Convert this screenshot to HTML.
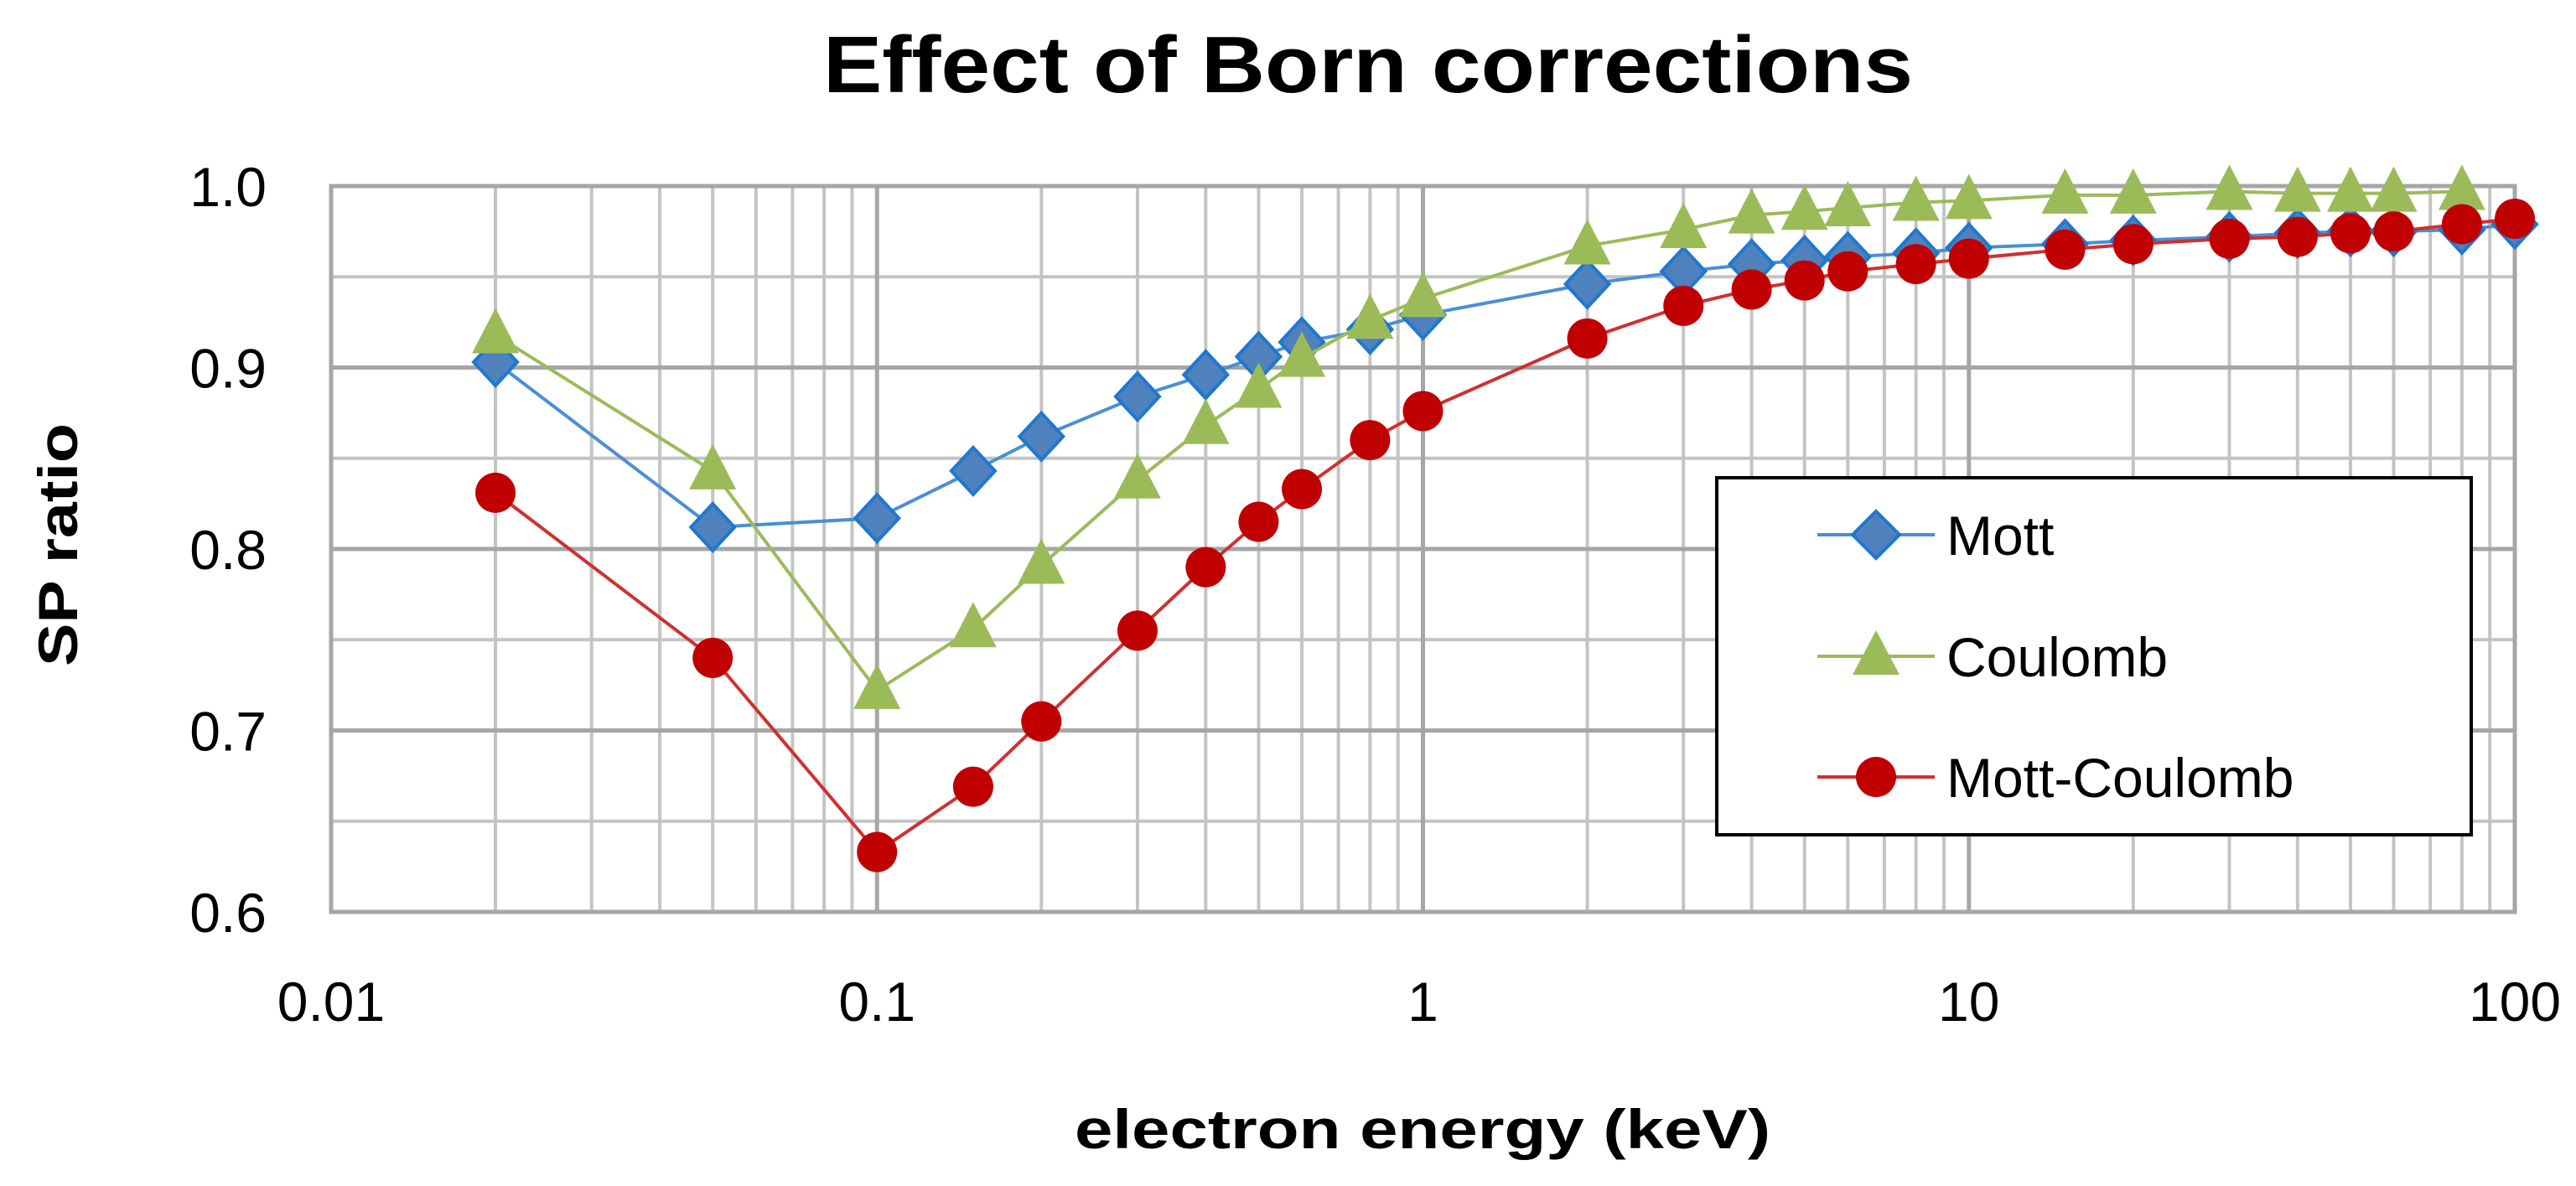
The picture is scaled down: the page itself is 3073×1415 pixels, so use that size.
<!DOCTYPE html>
<html><head><meta charset="utf-8"><style>
html,body{margin:0;padding:0;background:#fff;}
svg{display:block;font-family:"Liberation Sans",sans-serif;}
</style></head><body>
<svg id="chart" width="3073" height="1415" viewBox="0 0 3073 1415" xmlns="http://www.w3.org/2000/svg">
<text x="1632" y="110" font-size="96" font-weight="bold" text-anchor="middle" textLength="1300" lengthAdjust="spacingAndGlyphs">Effect of Born corrections</text>
<g id="grid"></g>
<g id="axes"></g>
<g id="series"></g>
<text x="1697" y="1370" font-size="66" font-weight="bold" text-anchor="middle" textLength="830" lengthAdjust="spacingAndGlyphs">electron energy (keV)</text>
<text transform="translate(92,650) rotate(-90)" font-size="66" font-weight="bold" text-anchor="middle" textLength="290" lengthAdjust="spacingAndGlyphs">SP ratio</text>
<g>
<rect x="2048" y="570" width="900" height="426" fill="#fff" stroke="#000" stroke-width="4"/>
<g>
<line x1="2168" y1="638" x2="2308" y2="638" stroke="#4a8fd4" stroke-width="4"/>
<polygon points="2238,610 2266,638 2238,666 2210,638" fill="#4f81bd" stroke="#1f78d0" stroke-width="4"/>
<text x="2322" y="662" font-size="66">Mott</text></g>
<g>
<line x1="2168" y1="783" x2="2308" y2="783" stroke="#9bbb59" stroke-width="4"/>
<polygon points="2238,752 2266,805 2210,805" fill="#9bbb59"/>
<text x="2322" y="807" font-size="66">Coulomb</text></g>
<g>
<line x1="2168" y1="927" x2="2308" y2="927" stroke="#d03030" stroke-width="4"/>
<circle cx="2238" cy="927" r="24" fill="#c00000"/>
<text x="2322" y="951" font-size="66">Mott-Coulomb</text></g>
</g>
</svg>
<script>
const energies=[0.02,0.05,0.1,0.15,0.2,0.3,0.4,0.5,0.6,0.8,1,2,3,4,5,6,8,10,15,20,30,40,50,60,80,100];
const mott=[0.903,0.812,0.817,0.843,0.862,0.884,0.896,0.906,0.914,0.921,0.929,0.946,0.953,0.957,0.959,0.961,0.963,0.966,0.968,0.970,0.972,0.974,0.975,0.975,0.976,0.979];
const coulombX=[0.02,0.05,0.1,0.15,0.2,0.3,0.4,0.5,0.6,0.8,1,2,3,4,5,6,8,10,15,20,30,40,50,60,80];
const coulomb=[0.918,0.843,0.722,0.756,0.791,0.838,0.868,0.888,0.905,0.926,0.938,0.967,0.976,0.984,0.986,0.988,0.991,0.992,0.995,0.995,0.997,0.996,0.996,0.996,0.997];
const mottCoulomb=[0.831,0.740,0.633,0.669,0.705,0.755,0.790,0.815,0.833,0.860,0.876,0.916,0.934,0.943,0.948,0.953,0.957,0.960,0.965,0.968,0.971,0.972,0.974,0.975,0.979,0.982];
const xTicks=[0.01,0.1,1,10,100];
const xTickLabels=["0.01","0.1","1","10","100"];
const yTicks=[0.6,0.7,0.8,0.9,1.0];
const yTickLabels=["0.6","0.7","0.8","0.9","1.0"];

const NS="http://www.w3.org/2000/svg";
const X0=395,X1=3000,Y0=1088,Y1=222;
const xs=v=>X0+(Math.log10(v)+2)/4*(X1-X0);
const ys=v=>Y0-(v-0.6)/0.4*(Y0-Y1);
function mk(tag,attrs,parent){const e=document.createElementNS(NS,tag);for(const k in attrs)e.setAttribute(k,attrs[k]);parent.appendChild(e);return e;}
const grid=document.getElementById('grid'),axes=document.getElementById('axes'),series=document.getElementById('series');
for(let d=-2;d<2;d++){for(let m=2;m<=9;m++){const v=m*Math.pow(10,d);const l=mk('line',{x1:xs(v),x2:xs(v),y1:Y1,y2:Y0,stroke:'#c4c4c4','stroke-width':4},grid);

}}
for(let i=0;i<=8;i++){const v=0.6+i*0.05;const l=mk('line',{x1:X0,x2:X1,y1:ys(v),y2:ys(v),stroke:i%2?'#c4c4c4':'#a6a6a6','stroke-width':i%2?4:5},grid);

}
xTicks.forEach((v,i)=>{const l=mk('line',{x1:xs(v),x2:xs(v),y1:Y1,y2:Y0,stroke:'#a6a6a6','stroke-width':5},grid);


const t=mk('text',{x:xs(v),y:1218,'font-size':66,'text-anchor':'middle'},axes);t.textContent=xTickLabels[i];

});
yTicks.forEach((v,i)=>{const t=mk('text',{x:318,y:ys(v)+24,'font-size':66,'text-anchor':'end'},axes);t.textContent=yTickLabels[i];

});
function draw(xv,yv,color,fill,shape,name){const g=mk('g',{},series);


const pl=mk('polyline',{points:xv.map((x,i)=>xs(x)+','+ys(yv[i])).join(' '),fill:'none',stroke:color,'stroke-width':4},g);


xv.forEach((x,i)=>{const cx=xs(x),cy=ys(yv[i]);let m;
if(shape==='d')m=mk('polygon',{points:`${cx},${cy-28} ${cx+26},${cy} ${cx},${cy+28} ${cx-26},${cy}`,fill:fill,stroke:'#1f78d0','stroke-width':4},g);
else if(shape==='t')m=mk('polygon',{points:`${cx},${cy-32} ${cx+28},${cy+22} ${cx-28},${cy+22}`,fill:fill},g);
else m=mk('circle',{cx:cx,cy:cy,r:24,fill:fill},g);

});}
draw(energies,mott,'#4a8fd4','#4f81bd','d','mott');
draw(coulombX,coulomb,'#9bbb59','#9bbb59','t','coulomb');
draw(energies,mottCoulomb,'#d03030','#c00000','c','mott-coulomb');
const fr=mk('rect',{x:X0,y:Y1,width:X1-X0,height:Y0-Y1,fill:'none',stroke:'#a6a6a6','stroke-width':5},axes);


</script>
</body></html>
